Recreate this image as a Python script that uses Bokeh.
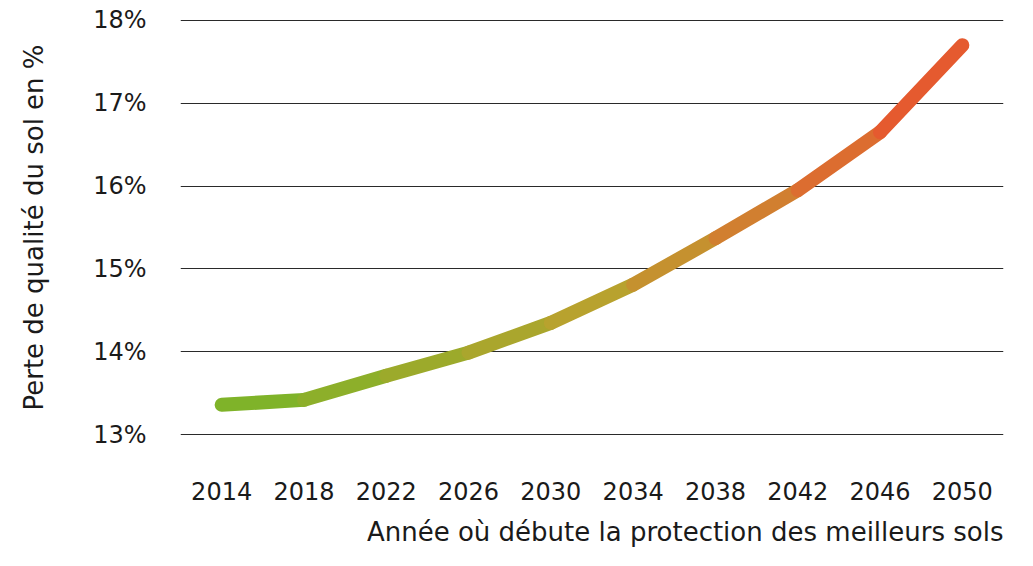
from bokeh.plotting import figure
from bokeh.models import Range1d, FixedTicker, PrintfTickFormatter, Title
from bokeh.embed import file_html
from bokeh.resources import INLINE

years = [2014, 2018, 2022, 2026, 2030, 2034, 2038, 2042, 2046, 2050]
loss_pct = [13.36, 13.42, 13.71, 13.99, 14.35, 14.81, 15.37, 15.95, 16.65, 17.70]
y_ticks = [13, 14, 15, 16, 17, 18]
x_label = "Année où débute la protection des meilleurs sols"
y_label = "Perte de qualité du sol en %"

FONT = "DejaVu Sans"

# gradient colours for the line (green -> gold -> red)
stops = [(0.0, (120, 181, 40)), (0.5, (184, 162, 46)), (0.78, (216, 118, 48)), (1.0, (233, 80, 46))]


def grad(t):
    for (t0, c0), (t1, c1) in zip(stops[:-1], stops[1:]):
        if t0 <= t <= t1:
            f = (t - t0) / (t1 - t0)
            return "#%02x%02x%02x" % tuple(int(round(a + (b - a) * f)) for a, b in zip(c0, c1))
    return "#%02x%02x%02x" % stops[-1][1]


n = len(years) - 1
seg_colors = [grad((i + 0.5) / n) for i in range(n)]

p = figure(width=1033, height=566, output_backend="svg", toolbar_location=None,
           x_range=Range1d(2012, 2052), y_range=Range1d(12.99, 18.01),
           min_border_left=180, min_border_right=30, min_border_top=19,
           min_border_bottom=131)
p.outline_line_color = None
p.background_fill_color = "white"
p.border_fill_color = "white"

p.xgrid.grid_line_color = None
p.ygrid.ticker = FixedTicker(ticks=y_ticks)
p.ygrid.grid_line_color = "#2a2a2a"
p.ygrid.grid_line_width = 1.2

p.segment(x0=years[:-1], y0=loss_pct[:-1], x1=years[1:], y1=loss_pct[1:],
          line_color=seg_colors, line_width=14, line_cap="round")

ya = p.yaxis[0]
ya.ticker = FixedTicker(ticks=y_ticks)
ya.formatter = PrintfTickFormatter(format="%d%%")
ya.axis_line_color = None
ya.major_tick_line_color = None
ya.minor_tick_line_color = None
ya.major_tick_in = 0
ya.major_tick_out = 0
ya.major_label_standoff = 34
ya.major_label_text_font = FONT
ya.major_label_text_font_size = "24px"
ya.major_label_text_color = "#1a1a1a"
ya.axis_label = y_label
ya.axis_label_text_font = FONT
ya.axis_label_text_font_size = "26px"
ya.axis_label_text_font_style = "normal"
ya.axis_label_text_color = "#1a1a1a"
ya.axis_label_standoff = 41

xa = p.xaxis[0]
xa.ticker = FixedTicker(ticks=years)
xa.axis_line_color = None
xa.major_tick_line_color = None
xa.minor_tick_line_color = None
xa.major_tick_in = 0
xa.major_tick_out = 0
xa.major_label_standoff = 46
xa.major_label_text_font = FONT
xa.major_label_text_font_size = "24px"
xa.major_label_text_color = "#1a1a1a"

t = Title(text=x_label, align="right", text_font=FONT, text_font_size="26px",
          text_font_style="normal", text_color="#1a1a1a", offset=0, standoff=24)
p.add_layout(t, "below")

open("out.html", "w").write(file_html(p, INLINE))
